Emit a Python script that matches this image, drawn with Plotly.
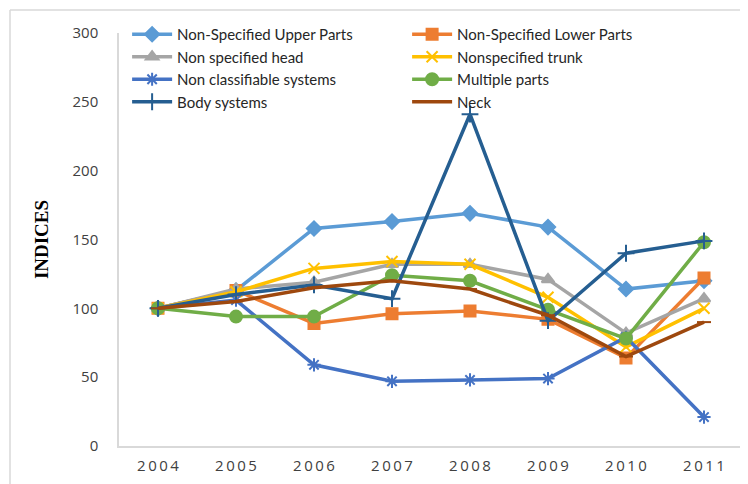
import plotly.graph_objects as go

years = ["2004", "2005", "2006", "2007", "2008", "2009", "2010", "2011"]
year_labels = ["2\u20090\u20090\u20094", "2\u20090\u20090\u20095", "2\u20090\u20090\u20096", "2\u20090\u20090\u20097",
               "2\u20090\u20090\u20098", "2\u20090\u20090\u20099", "2\u20090\u20091\u20090", "2\u20090\u20091\u20091"]

upper_parts = [100, 113, 158, 163, 169, 159, 114, 120]
lower_parts = [100, 113, 89, 96, 98, 92, 64, 122]
head = [100, 114, 119, 132, 132, 121, 82, 107]
trunk = [100, 112, 129, 134, 132, 108, 72, 100]
non_classifiable = [100, 106, 59, 47, 48, 49, 79, 21]
multiple_parts = [100, 94, 94, 124, 120, 99, 78, 148]
body_systems = [100, 110, 117, 107, 241, 91, 140, 149]
neck = [100, 105, 115, 120, 114, 95, 65, 90]

series = [
    ("Non-Specified Upper Parts", upper_parts, "#5B9BD5", "diamond", 11),
    ("Non-Specified Lower Parts", lower_parts, "#ED7D31", "square", 11),
    ("Non specified head", head, "#A5A5A5", "triangle-up", 11),
    ("Nonspecified trunk", trunk, "#FFC000", "x-thin", 11),
    ("Non classifiable systems", non_classifiable, "#4472C4", "asterisk", 11),
    ("Multiple parts", multiple_parts, "#70AD47", "circle", 12),
    ("Body systems", body_systems, "#255E91", "cross-thin", 12),
    ("Neck", neck, "#9E480E", "line-ew", 10),
]

fig = go.Figure()
for name, vals, color, sym, size in series:
    fig.add_trace(go.Scatter(
        x=years, y=vals, name=name, mode="lines+markers",
        line=dict(color=color, width=3.5),
        marker=dict(symbol=sym, size=size, color=color,
                    line=dict(color=color, width=2)),
    ))

PW, PH = 624, 413
fig.update_layout(
    width=740, height=476,
    margin=dict(l=111, r=5, t=25, b=38, autoexpand=False),
    paper_bgcolor="white", plot_bgcolor="white",
    font=dict(family="Lato", size=15, color="#404040"),
    showlegend=True,
    legend=dict(orientation="h", x=0.013, y=1 + 15 / PH, xanchor="left", yanchor="top",
                entrywidth=225, entrywidthmode="pixels",
                bgcolor="rgba(0,0,0,0)", font=dict(family="Lato", size=15, color="#262626"),
                itemwidth=40, tracegroupgap=0),
    xaxis=dict(type="category", range=[-0.5, 7.5], tickvals=years, ticktext=year_labels,
               showline=True, linecolor="#D9D9D9", linewidth=1.5, showgrid=False,
               ticks="", ticklabelstandoff=5, tickfont=dict(family="Open Sans", size=15, color="#404040"),
               zeroline=False, automargin=False),
    yaxis=dict(range=[0, 300], dtick=50, showline=True, linecolor="#D9D9D9", linewidth=1.5,
               showgrid=False, ticks="", ticklabelstandoff=16, zeroline=False, automargin=False,
               tickfont=dict(family="Open Sans", size=15, color="#404040"),
               title=dict(text="INDICES", standoff=19,
                          font=dict(family="Liberation Serif", size=19, color="#000000", weight="bold"))),
    shapes=[
        dict(type="line", xref="paper", yref="paper", x0=-109 / PW, x1=1.1, y0=1 + 23 / PH, y1=1 + 23 / PH,
             line=dict(color="#D9D9D9", width=1.5)),
        dict(type="line", xref="paper", yref="paper", x0=-109 / PW, x1=-109 / PW, y0=1 + 23 / PH, y1=-0.2,
             line=dict(color="#D9D9D9", width=1.5)),
    ],
)

fig.write_html("out.html")
